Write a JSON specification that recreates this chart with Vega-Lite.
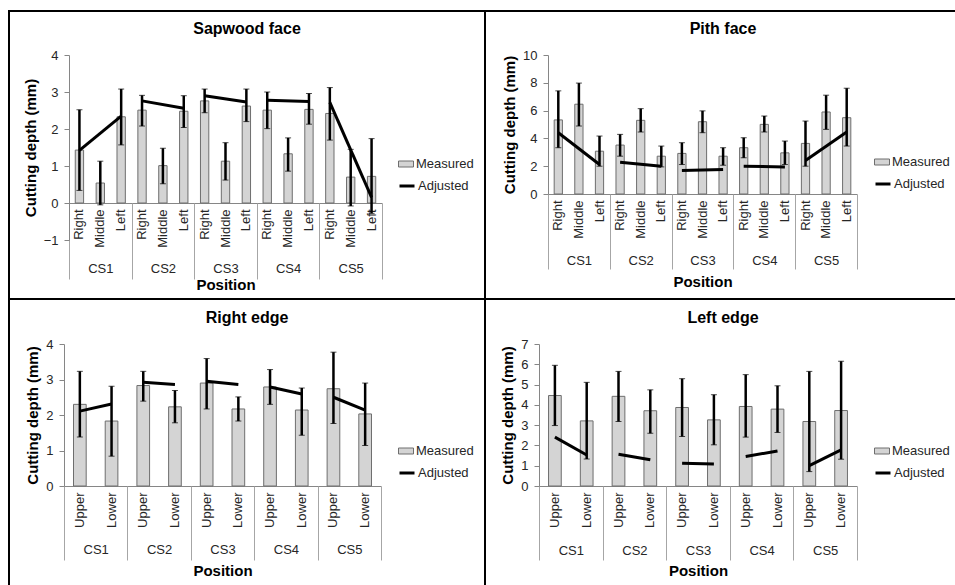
{
  "$schema": "https://vega.github.io/schema/vega-lite/v6.json",
  "padding": {"left": 8, "top": 10, "right": 0, "bottom": 0},
  "background": "white",
  "data": {"values": [
    {"p":"S","cs":"CS1","key":"CS1 Right","m":1.43,"lo":0.34,"hi":2.52,"a":1.42},
    {"p":"S","cs":"CS1","key":"CS1 Middle","m":0.54,"lo":-0.05,"hi":1.13},
    {"p":"S","cs":"CS1","key":"CS1 Left","m":2.33,"lo":1.57,"hi":3.08,"a":2.35},
    {"p":"S","cs":"CS2","key":"CS2 Right","m":2.51,"lo":2.08,"hi":2.91,"a":2.76},
    {"p":"S","cs":"CS2","key":"CS2 Middle","m":1.01,"lo":0.52,"hi":1.48},
    {"p":"S","cs":"CS2","key":"CS2 Left","m":2.48,"lo":2.04,"hi":2.90,"a":2.56},
    {"p":"S","cs":"CS3","key":"CS3 Right","m":2.76,"lo":2.44,"hi":3.08,"a":2.90},
    {"p":"S","cs":"CS3","key":"CS3 Middle","m":1.13,"lo":0.62,"hi":1.63},
    {"p":"S","cs":"CS3","key":"CS3 Left","m":2.62,"lo":2.20,"hi":3.08,"a":2.73},
    {"p":"S","cs":"CS4","key":"CS4 Right","m":2.51,"lo":2.01,"hi":3.00,"a":2.78},
    {"p":"S","cs":"CS4","key":"CS4 Middle","m":1.33,"lo":0.86,"hi":1.76},
    {"p":"S","cs":"CS4","key":"CS4 Left","m":2.53,"lo":2.13,"hi":2.96,"a":2.74},
    {"p":"S","cs":"CS5","key":"CS5 Right","m":2.42,"lo":1.70,"hi":3.12,"a":2.72},
    {"p":"S","cs":"CS5","key":"CS5 Middle","m":0.70,"lo":-0.08,"hi":1.45},
    {"p":"S","cs":"CS5","key":"CS5 Left","m":0.72,"lo":-0.28,"hi":1.74,"a":0.15},

    {"p":"P","cs":"CS1","key":"CS1 Right","m":5.33,"lo":3.33,"hi":7.42,"a":4.41},
    {"p":"P","cs":"CS1","key":"CS1 Middle","m":6.46,"lo":4.89,"hi":7.98},
    {"p":"P","cs":"CS1","key":"CS1 Left","m":3.08,"lo":2.00,"hi":4.17,"a":2.12},
    {"p":"P","cs":"CS2","key":"CS2 Right","m":3.52,"lo":2.72,"hi":4.29,"a":2.29},
    {"p":"P","cs":"CS2","key":"CS2 Middle","m":5.30,"lo":4.46,"hi":6.14},
    {"p":"P","cs":"CS2","key":"CS2 Left","m":2.72,"lo":1.95,"hi":3.45,"a":2.00},
    {"p":"P","cs":"CS3","key":"CS3 Right","m":2.92,"lo":2.12,"hi":3.69,"a":1.69},
    {"p":"P","cs":"CS3","key":"CS3 Middle","m":5.20,"lo":4.41,"hi":5.98},
    {"p":"P","cs":"CS3","key":"CS3 Left","m":2.72,"lo":2.07,"hi":3.33,"a":1.76},
    {"p":"P","cs":"CS4","key":"CS4 Right","m":3.33,"lo":2.60,"hi":4.05,"a":2.00},
    {"p":"P","cs":"CS4","key":"CS4 Middle","m":5.01,"lo":4.46,"hi":5.61},
    {"p":"P","cs":"CS4","key":"CS4 Left","m":2.96,"lo":2.12,"hi":3.81,"a":1.95},
    {"p":"P","cs":"CS5","key":"CS5 Right","m":3.64,"lo":2.00,"hi":5.25,"a":2.41},
    {"p":"P","cs":"CS5","key":"CS5 Middle","m":5.90,"lo":4.65,"hi":7.11},
    {"p":"P","cs":"CS5","key":"CS5 Left","m":5.49,"lo":3.45,"hi":7.61,"a":4.46},

    {"p":"R","cs":"CS1","key":"CS1 Upper","m":2.30,"lo":1.38,"hi":3.23,"a":2.11},
    {"p":"R","cs":"CS1","key":"CS1 Lower","m":1.83,"lo":0.84,"hi":2.81,"a":2.31},
    {"p":"R","cs":"CS2","key":"CS2 Upper","m":2.83,"lo":2.39,"hi":3.23,"a":2.92},
    {"p":"R","cs":"CS2","key":"CS2 Lower","m":2.23,"lo":1.78,"hi":2.69,"a":2.86},
    {"p":"R","cs":"CS3","key":"CS3 Upper","m":2.90,"lo":2.17,"hi":3.59,"a":2.95},
    {"p":"R","cs":"CS3","key":"CS3 Lower","m":2.17,"lo":1.83,"hi":2.51,"a":2.86},
    {"p":"R","cs":"CS4","key":"CS4 Upper","m":2.79,"lo":2.30,"hi":3.28,"a":2.79},
    {"p":"R","cs":"CS4","key":"CS4 Lower","m":2.14,"lo":1.43,"hi":2.76,"a":2.59},
    {"p":"R","cs":"CS5","key":"CS5 Upper","m":2.74,"lo":1.76,"hi":3.77,"a":2.50},
    {"p":"R","cs":"CS5","key":"CS5 Lower","m":2.03,"lo":1.14,"hi":2.90,"a":2.14},

    {"p":"L","cs":"CS1","key":"CS1 Upper","m":4.46,"lo":2.98,"hi":5.95,"a":2.41},
    {"p":"L","cs":"CS1","key":"CS1 Lower","m":3.21,"lo":1.33,"hi":5.11,"a":1.53},
    {"p":"L","cs":"CS2","key":"CS2 Upper","m":4.42,"lo":3.18,"hi":5.65,"a":1.57},
    {"p":"L","cs":"CS2","key":"CS2 Lower","m":3.71,"lo":2.60,"hi":4.74,"a":1.29},
    {"p":"L","cs":"CS3","key":"CS3 Upper","m":3.87,"lo":2.44,"hi":5.29,"a":1.12},
    {"p":"L","cs":"CS3","key":"CS3 Lower","m":3.26,"lo":2.03,"hi":4.50,"a":1.09},
    {"p":"L","cs":"CS4","key":"CS4 Upper","m":3.92,"lo":2.41,"hi":5.49,"a":1.45},
    {"p":"L","cs":"CS4","key":"CS4 Lower","m":3.79,"lo":2.64,"hi":4.94,"a":1.73},
    {"p":"L","cs":"CS5","key":"CS5 Upper","m":3.18,"lo":0.71,"hi":5.65,"a":1.00},
    {"p":"L","cs":"CS5","key":"CS5 Lower","m":3.72,"lo":1.32,"hi":6.15,"a":1.78}
  ]},
  "columns": 2,
  "spacing": 0,
  "bounds": "flush",
  "resolve": {"scale": {"fill": "independent", "stroke": "independent"}, "legend": {"fill": "independent", "stroke": "independent"}},
  "concat": [
    {
      "width": 476, "height": 288,
      "title": {"text": "Sapwood face", "offset": -26},
      "transform": [{"filter": "datum.p === 'S'"}],
      "layer": [
        {
          "layer": [
            {
              "mark": {"type": "bar", "width": {"band": 0.4}, "stroke": "#6e6e6e", "strokeWidth": 1},
              "encoding": {
                "x": {"field": "key", "type": "nominal", "sort": null,
                  "scale": {"range": [60, 373], "paddingInner": 0, "paddingOuter": 0},
                  "axis": {"orient": "bottom", "offset": -96, "title": null, "labelAngle": 270, "labelExpr": "split(datum.label, ' ')[1]", "ticks": false, "labelPadding": 6, "domainColor": "#868686"}},
                "y": {"field": "m", "type": "quantitative",
                  "scale": {"domain": [-1, 4], "range": [229, 44], "nice": false, "zero": false},
                  "axis": {"title": "Cutting depth (mm)", "values": [-1, 0, 1, 2, 3, 4], "format": "d", "offset": -60, "grid": false, "tickSize": 5, "labelPadding": 6, "titlePadding": 5, "domainColor": "#868686", "tickColor": "#868686"}},
                "fill": {"datum": "Measured", "type": "nominal",
                  "scale": {"domain": ["Measured"], "range": ["#d4d4d4"]},
                  "legend": {"orient": "none", "legendX": 389, "legendY": 145, "title": null, "padding": 0, "labelOffset": 2, "symbolType": "M-1,-0.4H1V0.4H-1Z", "symbolSize": 225, "symbolStrokeColor": "#6e6e6e", "symbolStrokeWidth": 1, "labelFontSize": 13}}
              }
            },
            {
              "mark": {"type": "errorbar", "ticks": {"size": 6, "color": "#000", "strokeWidth": 2}, "rule": {"color": "#000", "strokeWidth": 2.5}},
              "encoding": {
                "x": {"field": "key", "type": "nominal", "sort": null},
                "y": {"field": "lo", "type": "quantitative", "title": "Cutting depth (mm)"},
                "y2": {"field": "hi"}
              }
            },
            {
              "transform": [{"filter": "isValid(datum.a)"}],
              "mark": {"type": "line", "strokeWidth": 3},
              "encoding": {
                "x": {"field": "key", "type": "nominal", "sort": null},
                "y": {"field": "a", "type": "quantitative", "title": "Cutting depth (mm)"},
                "detail": {"field": "cs"},
                "stroke": {"datum": "Adjusted", "type": "nominal",
                  "scale": {"domain": ["Adjusted"], "range": ["#000000"]},
                  "legend": {"orient": "none", "legendX": 389, "legendY": 166, "title": null, "padding": 0, "labelOffset": 2, "symbolType": "M-1,0H1", "symbolSize": 225, "symbolStrokeWidth": 3, "labelFontSize": 13}}
              }
            }
          ]
        },
        {
          "mark": {"type": "rule", "opacity": 0},
          "encoding": {
            "x": {"field": "cs", "type": "nominal", "sort": null,
              "scale": {"range": [60, 373], "paddingInner": 0, "paddingOuter": 0},
              "axis": {"orient": "bottom", "offset": -96, "title": "Position", "domain": false, "tickBand": "extent", "tickSize": 76, "tickColor": "#a6a6a6", "labelAngle": 0, "labelPadding": -17, "titlePadding": -2}}
          }
        }
      ],
      "resolve": {"scale": {"x": "independent"}}
    },
    {
      "width": 476, "height": 288,
      "title": {"text": "Pith face", "offset": -26},
      "transform": [{"filter": "datum.p === 'P'"}],
      "layer": [
        {
          "layer": [
            {
              "mark": {"type": "bar", "width": {"band": 0.4}, "stroke": "#6e6e6e", "strokeWidth": 1},
              "encoding": {
                "x": {"field": "key", "type": "nominal", "sort": null,
                  "scale": {"range": [63, 372], "paddingInner": 0, "paddingOuter": 0},
                  "axis": {"orient": "bottom", "offset": -105, "title": null, "labelAngle": 270, "labelExpr": "split(datum.label, ' ')[1]", "ticks": false, "labelPadding": 6, "domainColor": "#868686"}},
                "y": {"field": "m", "type": "quantitative",
                  "scale": {"domain": [0, 10], "range": [183, 44], "nice": false, "zero": false},
                  "axis": {"title": "Cutting depth (mm)", "values": [0, 1, 2, 3, 4, 5, 6, 7, 8, 9, 10], "format": "d", "offset": -63, "grid": false, "tickSize": 5, "labelPadding": 6, "titlePadding": 5, "domainColor": "#868686", "tickColor": "#868686"}},
                "fill": {"datum": "Measured", "type": "nominal",
                  "scale": {"domain": ["Measured"], "range": ["#d4d4d4"]},
                  "legend": {"orient": "none", "legendX": 389, "legendY": 143, "title": null, "padding": 0, "labelOffset": 2, "symbolType": "M-1,-0.4H1V0.4H-1Z", "symbolSize": 225, "symbolStrokeColor": "#6e6e6e", "symbolStrokeWidth": 1, "labelFontSize": 13}}
              }
            },
            {
              "mark": {"type": "errorbar", "ticks": {"size": 6, "color": "#000", "strokeWidth": 2}, "rule": {"color": "#000", "strokeWidth": 2.5}},
              "encoding": {
                "x": {"field": "key", "type": "nominal", "sort": null},
                "y": {"field": "lo", "type": "quantitative", "title": "Cutting depth (mm)"},
                "y2": {"field": "hi"}
              }
            },
            {
              "transform": [{"filter": "isValid(datum.a)"}],
              "mark": {"type": "line", "strokeWidth": 3},
              "encoding": {
                "x": {"field": "key", "type": "nominal", "sort": null},
                "y": {"field": "a", "type": "quantitative", "title": "Cutting depth (mm)"},
                "detail": {"field": "cs"},
                "stroke": {"datum": "Adjusted", "type": "nominal",
                  "scale": {"domain": ["Adjusted"], "range": ["#000000"]},
                  "legend": {"orient": "none", "legendX": 389, "legendY": 164, "title": null, "padding": 0, "labelOffset": 2, "symbolType": "M-1,0H1", "symbolSize": 225, "symbolStrokeWidth": 3, "labelFontSize": 13}}
              }
            }
          ]
        },
        {
          "mark": {"type": "rule", "opacity": 0},
          "encoding": {
            "x": {"field": "cs", "type": "nominal", "sort": null,
              "scale": {"range": [63, 372], "paddingInner": 0, "paddingOuter": 0},
              "axis": {"orient": "bottom", "offset": -105, "title": "Position", "domain": false, "tickBand": "extent", "tickSize": 75, "tickColor": "#a6a6a6", "labelAngle": 0, "labelPadding": -15, "titlePadding": 5}}
          }
        }
      ],
      "resolve": {"scale": {"x": "independent"}}
    },
    {
      "width": 476, "height": 288,
      "title": {"text": "Right edge", "offset": -27},
      "transform": [{"filter": "datum.p === 'R'"}],
      "layer": [
        {
          "layer": [
            {
              "mark": {"type": "bar", "width": {"band": 0.4}, "stroke": "#6e6e6e", "strokeWidth": 1},
              "encoding": {
                "x": {"field": "key", "type": "nominal", "sort": null,
                  "scale": {"range": [55, 372], "paddingInner": 0, "paddingOuter": 0},
                  "axis": {"orient": "bottom", "offset": -101, "title": null, "labelAngle": 270, "labelExpr": "split(datum.label, ' ')[1]", "ticks": false, "labelPadding": 6, "domainColor": "#868686"}},
                "y": {"field": "m", "type": "quantitative",
                  "scale": {"domain": [0, 4], "range": [187, 45], "nice": false, "zero": false},
                  "axis": {"title": "Cutting depth (mm)", "values": [0, 1, 2, 3, 4], "format": "d", "offset": -55, "grid": false, "tickSize": 5, "labelPadding": 6, "titlePadding": 5, "domainColor": "#868686", "tickColor": "#868686"}},
                "fill": {"datum": "Measured", "type": "nominal",
                  "scale": {"domain": ["Measured"], "range": ["#d4d4d4"]},
                  "legend": {"orient": "none", "legendX": 389, "legendY": 144, "title": null, "padding": 0, "labelOffset": 2, "symbolType": "M-1,-0.4H1V0.4H-1Z", "symbolSize": 225, "symbolStrokeColor": "#6e6e6e", "symbolStrokeWidth": 1, "labelFontSize": 13}}
              }
            },
            {
              "mark": {"type": "errorbar", "ticks": {"size": 6, "color": "#000", "strokeWidth": 2}, "rule": {"color": "#000", "strokeWidth": 2.5}},
              "encoding": {
                "x": {"field": "key", "type": "nominal", "sort": null},
                "y": {"field": "lo", "type": "quantitative", "title": "Cutting depth (mm)"},
                "y2": {"field": "hi"}
              }
            },
            {
              "transform": [{"filter": "isValid(datum.a)"}],
              "mark": {"type": "line", "strokeWidth": 3},
              "encoding": {
                "x": {"field": "key", "type": "nominal", "sort": null},
                "y": {"field": "a", "type": "quantitative", "title": "Cutting depth (mm)"},
                "detail": {"field": "cs"},
                "stroke": {"datum": "Adjusted", "type": "nominal",
                  "scale": {"domain": ["Adjusted"], "range": ["#000000"]},
                  "legend": {"orient": "none", "legendX": 389, "legendY": 165, "title": null, "padding": 0, "labelOffset": 2, "symbolType": "M-1,0H1", "symbolSize": 225, "symbolStrokeWidth": 3, "labelFontSize": 13}}
              }
            }
          ]
        },
        {
          "mark": {"type": "rule", "opacity": 0},
          "encoding": {
            "x": {"field": "cs", "type": "nominal", "sort": null,
              "scale": {"range": [55, 372], "paddingInner": 0, "paddingOuter": 0},
              "axis": {"orient": "bottom", "offset": -101, "title": "Position", "domain": false, "tickBand": "extent", "tickSize": 74, "tickColor": "#a6a6a6", "labelAngle": 0, "labelPadding": -17, "titlePadding": 3}}
          }
        }
      ],
      "resolve": {"scale": {"x": "independent"}}
    },
    {
      "width": 476, "height": 288,
      "title": {"text": "Left edge", "offset": -27},
      "transform": [{"filter": "datum.p === 'L'"}],
      "layer": [
        {
          "layer": [
            {
              "mark": {"type": "bar", "width": {"band": 0.4}, "stroke": "#6e6e6e", "strokeWidth": 1},
              "encoding": {
                "x": {"field": "key", "type": "nominal", "sort": null,
                  "scale": {"range": [54, 372], "paddingInner": 0, "paddingOuter": 0},
                  "axis": {"orient": "bottom", "offset": -101, "title": null, "labelAngle": 270, "labelExpr": "split(datum.label, ' ')[1]", "ticks": false, "labelPadding": 6, "domainColor": "#868686"}},
                "y": {"field": "m", "type": "quantitative",
                  "scale": {"domain": [0, 7], "range": [187, 45], "nice": false, "zero": false},
                  "axis": {"title": "Cutting depth (mm)", "values": [0, 1, 2, 3, 4, 5, 6, 7], "format": "d", "offset": -54, "grid": false, "tickSize": 5, "labelPadding": 6, "titlePadding": 5, "domainColor": "#868686", "tickColor": "#868686"}},
                "fill": {"datum": "Measured", "type": "nominal",
                  "scale": {"domain": ["Measured"], "range": ["#d4d4d4"]},
                  "legend": {"orient": "none", "legendX": 389, "legendY": 144, "title": null, "padding": 0, "labelOffset": 2, "symbolType": "M-1,-0.4H1V0.4H-1Z", "symbolSize": 225, "symbolStrokeColor": "#6e6e6e", "symbolStrokeWidth": 1, "labelFontSize": 13}}
              }
            },
            {
              "mark": {"type": "errorbar", "ticks": {"size": 6, "color": "#000", "strokeWidth": 2}, "rule": {"color": "#000", "strokeWidth": 2.5}},
              "encoding": {
                "x": {"field": "key", "type": "nominal", "sort": null},
                "y": {"field": "lo", "type": "quantitative", "title": "Cutting depth (mm)"},
                "y2": {"field": "hi"}
              }
            },
            {
              "transform": [{"filter": "isValid(datum.a)"}],
              "mark": {"type": "line", "strokeWidth": 3},
              "encoding": {
                "x": {"field": "key", "type": "nominal", "sort": null},
                "y": {"field": "a", "type": "quantitative", "title": "Cutting depth (mm)"},
                "detail": {"field": "cs"},
                "stroke": {"datum": "Adjusted", "type": "nominal",
                  "scale": {"domain": ["Adjusted"], "range": ["#000000"]},
                  "legend": {"orient": "none", "legendX": 389, "legendY": 165, "title": null, "padding": 0, "labelOffset": 2, "symbolType": "M-1,0H1", "symbolSize": 225, "symbolStrokeWidth": 3, "labelFontSize": 13}}
              }
            }
          ]
        },
        {
          "mark": {"type": "rule", "opacity": 0},
          "encoding": {
            "x": {"field": "cs", "type": "nominal", "sort": null,
              "scale": {"range": [54, 372], "paddingInner": 0, "paddingOuter": 0},
              "axis": {"orient": "bottom", "offset": -101, "title": "Position", "domain": false, "tickBand": "extent", "tickSize": 74, "tickColor": "#a6a6a6", "labelAngle": 0, "labelPadding": -16, "titlePadding": 3}}
          }
        }
      ],
      "resolve": {"scale": {"x": "independent"}}
    }
  ],
  "config": {
    "font": "Liberation Sans",
    "view": {"stroke": "#000000", "strokeWidth": 2},
    "title": {"fontSize": 16, "fontWeight": "bold", "color": "#000000", "anchor": "middle"},
    "axis": {"labelFontSize": 13, "labelColor": "#262626", "titleFontSize": 15, "titleFontWeight": "bold", "titleColor": "#000000", "labelFont": "Liberation Sans", "titleFont": "Liberation Sans"},
    "legend": {"labelColor": "#262626", "labelFont": "Liberation Sans"}
  }
}
